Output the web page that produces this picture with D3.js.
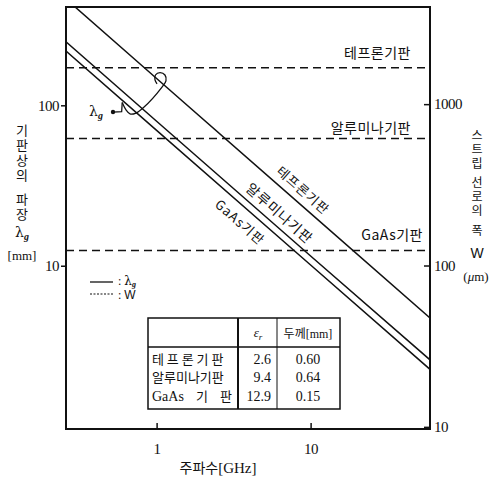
<!DOCTYPE html>
<html><head><meta charset="utf-8">
<script src="https://cdn.jsdelivr.net/npm/d3@7"></script>
<style>
html,body{margin:0;padding:0;background:#fff;}
svg{display:block;}
.kr{font-family:"Noto Sans CJK KR","Noto Sans",sans-serif;}
.num{font-family:"Liberation Serif","DejaVu Serif",serif;}
.vert{writing-mode:vertical-rl;text-orientation:upright;}
</style></head>
<body>
<script>
// ---- data ----
const freqs = [0.258, 1, 10, 59.6];                 // GHz
const teflonLambda = [460, 147, 21.2, 4.73];       // mm
const aluminaLambda = [249, 79.6, 11.5, 2.59];
const gaasLambda = [218, 69.8, 10.1, 2.26];
const stripWidths = [1680, 612, 124];              // µm : Teflon, Alumina, GaAs
const substrateLabels = ["테프론기판", "알루미나기판", "GaAs기판"];
const xTicks = [1, 10];
const leftTicks = [10, 100];
const rightTicks = [10, 100, 1000];
const tableNames = ["테 프 론 기 판", "알루미나기판", "GaAs 기 판"];
const tableEps = ["2.6", "9.4", "12.9"];
const tableThick = ["0.60", "0.64", "0.15"];
const leftTitleWords = ["기판상의", "파장"];
const rightTitleWords = ["스트립", "선로의", "폭"];
// λg call-out leader (frequency GHz, λg mm)
const leaderHook = [[0.521, 90.8], [0.593, 91.2], [0.598, 104]];
const leaderCurve = [[0.598, 104], [0.633, 93.5], [0.672, 88.3], [0.735, 89.5], [0.816, 96.2],
  [1.084, 130], [1.15, 142], [1.133, 154.5], [1.052, 160], [0.983, 154.5], [0.976, 144], [1.006, 136]];

const W = 504, H = 479;
const svg = d3.select("body").append("svg").attr("width", W).attr("height", H);

const L = 66, R = 430, T = 7, B = 429;
const x = d3.scaleLog().domain([0.258, 59.6]).range([L, R]);
const yL = d3.scaleLog().domain([0.96, 410]).range([B, T]);
const yR = d3.scaleLog().domain([9.7, 4000]).range([B, T]);

svg.append("defs").append("clipPath").attr("id", "clip")
  .append("rect").attr("x", L).attr("y", T).attr("width", R - L).attr("height", B - T);

const plot = svg.append("g").attr("clip-path", "url(#clip)");

// solid λg lines
const line = d3.line().x(d => x(d[0])).y(d => yL(d[1]));
[teflonLambda, aluminaLambda, gaasLambda].forEach(vals => {
  plot.append("path").datum(freqs.map((f, i) => [f, vals[i]]))
    .attr("d", line).attr("fill", "none").attr("stroke", "#111").attr("stroke-width", 1.5);
});

// dashed W lines
stripWidths.forEach(w => {
  plot.append("line").attr("x1", L).attr("x2", R).attr("y1", yR(w)).attr("y2", yR(w))
    .attr("stroke", "#111").attr("stroke-width", 1.4).attr("stroke-dasharray", "8,5");
});

// labels for W lines (right aligned)
const wLabelPos = [{dy: -10, x: 411}, {dy: -6, x: 411}, {dy: -10, x: 423}];
stripWidths.forEach((w, i) => {
  svg.append("text").attr("class", "kr").attr("x", wLabelPos[i].x).attr("y", yR(w) + wLabelPos[i].dy)
    .attr("text-anchor", "end").attr("font-size", 14).style("letter-spacing", "0.5px")
    .attr("fill", "#111").text(substrateLabels[i]);
});

// rotated labels along λg lines
const ang = Math.atan2(yL(teflonLambda[3]) - yL(teflonLambda[0]), x(freqs[3]) - x(freqs[0])) * 180 / Math.PI;
const rotLabels = [
  {f: 7.9, v: teflonLambda, off: 7.5, fs: 13},
  {f: 5.6, v: aluminaLambda, off: 6.5, fs: 14},
  {f: 4.0, v: gaasLambda, off: -19, fs: 13}
];
rotLabels.forEach((d, i) => {
  const interp = d3.scaleLog().domain(freqs).range(d.v.map(v => Math.log(v)));
  const px = x(d.f), py = yL(Math.exp(interp(d.f)));
  const a = ang * Math.PI / 180;
  const ox = px + d.off * Math.sin(a), oy = py - d.off * Math.cos(a);
  svg.append("text").attr("class", "kr")
    .attr("transform", `translate(${ox},${oy}) rotate(${ang})`)
    .attr("text-anchor", "middle").attr("font-size", d.fs).attr("fill", "#111")
    .style("letter-spacing", "1px")
    .text(substrateLabels[i]);
});

// frame
svg.append("rect").attr("x", L).attr("y", T).attr("width", R - L).attr("height", B - T)
  .attr("fill", "none").attr("stroke", "#111").attr("stroke-width", 2);

// axes
const gL = svg.append("g").attr("transform", `translate(${L},0)`)
  .call(d3.axisLeft(yL).tickValues(leftTicks).tickFormat(d3.format("d")).tickSize(5).tickPadding(2));
const gR = svg.append("g").attr("transform", `translate(${R},0)`)
  .call(d3.axisRight(yR).tickValues(rightTicks).tickFormat(d3.format("d")).tickSize(-6).tickPadding(4));
const gB = svg.append("g").attr("transform", `translate(0,${B})`)
  .call(d3.axisBottom(x).tickValues(xTicks).tickFormat(d3.format("d")).tickSize(-6).tickPadding(14));
[gL, gR, gB].forEach(g => {
  g.select(".domain").remove();
  g.selectAll("line").attr("stroke", "#111").attr("stroke-width", 1.5);
  g.selectAll("text").attr("class", "num").attr("font-size", 15).attr("fill", "#111")
    .style("letter-spacing", "-0.5px");
});

// x title
svg.append("text").attr("x", 218).attr("y", 473).attr("text-anchor", "middle")
  .attr("font-size", 14).attr("fill", "#111")
  .html('<tspan font-family="Noto Sans CJK KR">주파수</tspan><tspan font-family="Liberation Serif" font-size="15">[GHz]</tspan>');

// left vertical title (vertical writing)
const leftStarts = [123.5, 192.5];
leftTitleWords.forEach((w, i) => {
  svg.append("text").attr("class", "kr vert").attr("x", 22).attr("y", leftStarts[i])
    .attr("font-size", 13).style("letter-spacing", "2px").attr("fill", "#111").text(w);
});
svg.append("text").attr("x", 22).attr("y", 237).attr("text-anchor", "middle").attr("fill", "#111")
  .html('<tspan font-family="DejaVu Serif" font-size="14">λ</tspan><tspan font-family="Liberation Serif" font-style="italic" font-weight="bold" font-size="10" dy="3">g</tspan>');
svg.append("text").attr("class", "num").attr("x", 22).attr("y", 260).attr("text-anchor", "middle")
  .attr("font-size", 13).attr("fill", "#111").text("[mm]");

// right vertical title (vertical writing)
const rightStarts = [129, 176, 224];
rightTitleWords.forEach((w, i) => {
  svg.append("text").attr("class", "kr vert").attr("x", 477).attr("y", rightStarts[i])
    .attr("font-size", 12).style("letter-spacing", "2px").attr("fill", "#111").text(w);
});
svg.append("text").attr("x", 477).attr("y", 258).attr("text-anchor", "middle")
  .attr("font-family", "Liberation Sans").attr("font-size", 14).attr("fill", "#111").text("W");
svg.append("text").attr("class", "num").attr("x", 476).attr("y", 281).attr("text-anchor", "middle")
  .attr("font-size", 13).attr("fill", "#111").html('(<tspan font-style="italic">μ</tspan>m)');

// λg annotation leader
svg.append("text").attr("x", 89).attr("y", 116).attr("fill", "#111")
  .html('<tspan font-family="DejaVu Serif" font-size="14">λ</tspan><tspan font-family="Liberation Serif" font-style="italic" font-weight="bold" font-size="10" dy="3">g</tspan>');
svg.append("circle").attr("cx", x(leaderHook[0][0])).attr("cy", yL(leaderHook[0][1])).attr("r", 2.2).attr("fill", "#111");
svg.append("path").datum(leaderHook)
  .attr("d", d3.line().x(d => x(d[0])).y(d => yL(d[1])))
  .attr("fill", "none").attr("stroke", "#111").attr("stroke-width", 1.3);
svg.append("path").datum(leaderCurve)
  .attr("d", d3.line().x(d => x(d[0])).y(d => yL(d[1])).curve(d3.curveCatmullRom))
  .attr("fill", "none").attr("stroke", "#111").attr("stroke-width", 1.3);

// legend
svg.append("line").attr("x1", 90).attr("x2", 113).attr("y1", 282).attr("y2", 282)
  .attr("stroke", "#111").attr("stroke-width", 1.3);
svg.append("text").attr("x", 118).attr("y", 285).attr("fill", "#111")
  .html('<tspan font-family="Liberation Serif" font-size="12">: </tspan><tspan font-family="DejaVu Serif" font-size="12">λ</tspan><tspan font-family="Liberation Serif" font-style="italic" font-weight="bold" font-size="8" dy="2">g</tspan>');
svg.append("line").attr("x1", 90).attr("x2", 113).attr("y1", 294).attr("y2", 294)
  .attr("stroke", "#111").attr("stroke-width", 1.2).attr("stroke-dasharray", "2,1.5");
svg.append("text").attr("x", 118).attr("y", 298.5).attr("fill", "#111")
  .html('<tspan font-family="Liberation Serif" font-size="12">: </tspan><tspan font-family="Liberation Sans" font-size="12">W</tspan>');

// table
const tb = svg.append("g");
const tx0 = 148, tx1 = 238, tx2 = 277, tx3 = 340, ty0 = 318, ty1 = 347, ty2 = 409;
tb.append("rect").attr("x", tx0).attr("y", ty0).attr("width", tx3 - tx0).attr("height", ty2 - ty0)
  .attr("fill", "#fff").attr("stroke", "#111").attr("stroke-width", 1.5);
tb.append("line").attr("x1", tx0).attr("x2", tx3).attr("y1", ty1).attr("y2", ty1).attr("stroke", "#111").attr("stroke-width", 1.3);
tb.append("line").attr("x1", tx1).attr("x2", tx1).attr("y1", ty0).attr("y2", ty2).attr("stroke", "#111").attr("stroke-width", 2);
tb.append("line").attr("x1", tx2).attr("x2", tx2).attr("y1", ty0).attr("y2", ty2).attr("stroke", "#111").attr("stroke-width", 1);
tb.append("text").attr("x", 258).attr("y", 337).attr("text-anchor", "middle").attr("fill", "#111")
  .html('<tspan font-family="Liberation Serif" font-style="italic" font-size="13">ε</tspan><tspan font-family="Liberation Serif" font-style="italic" font-size="9" dy="3">r</tspan>');
tb.append("text").attr("x", 308).attr("y", 338).attr("text-anchor", "middle").attr("fill", "#111")
  .html('<tspan font-family="Noto Sans CJK KR" font-size="12">두께</tspan><tspan font-family="Liberation Serif" font-size="12">[mm]</tspan>');
const rowY = [364, 382, 401];
tableNames.forEach((n, i) => {
  const t = tb.append("text").attr("x", 152).attr("y", rowY[i]).attr("fill", "#111").attr("font-size", 13);
  if (i === 2) {
    const parts = n.split(" ");
    t.append("tspan").attr("font-family", "Liberation Serif").attr("font-size", 14).text(parts[0]);
    t.append("tspan").attr("font-family", "Noto Sans CJK KR").attr("x", 196).text(parts[1]);
    t.append("tspan").attr("font-family", "Noto Sans CJK KR").attr("x", 220).text(parts[2]);
  } else {
    t.attr("font-family", "Noto Sans CJK KR").style("white-space", "pre").text(n);
  }
  tb.append("text").attr("class", "num").attr("x", 271).attr("y", rowY[i]).attr("text-anchor", "end")
    .attr("font-size", 14).attr("fill", "#111").text(tableEps[i]);
  tb.append("text").attr("class", "num").attr("x", 308).attr("y", rowY[i]).attr("text-anchor", "middle")
    .attr("font-size", 14).attr("fill", "#111").text(tableThick[i]);
});
</script>
</body></html>
